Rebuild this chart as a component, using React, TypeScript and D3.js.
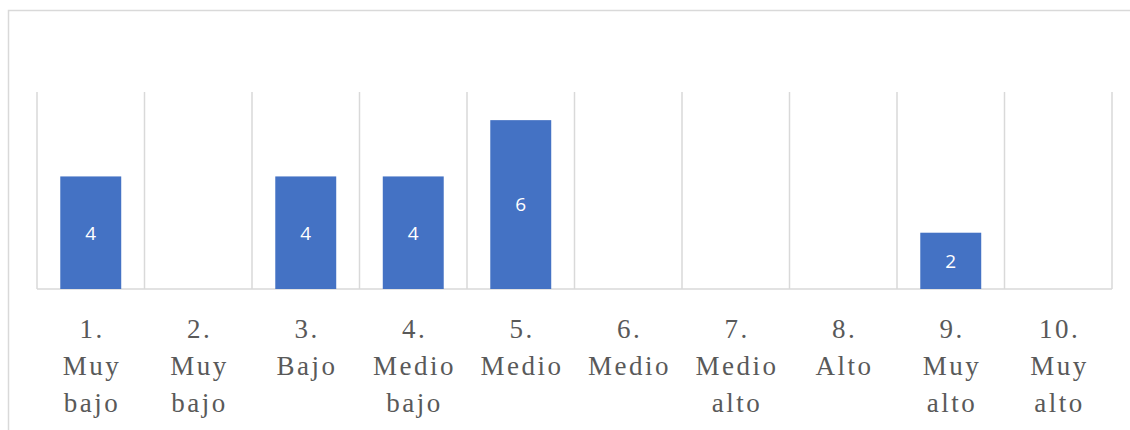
import React from "react";
import * as d3 from "d3";

const categories = ["1. Muy bajo", "2. Muy bajo", "3. Bajo", "4. Medio bajo", "5. Medio", "6. Medio", "7. Medio alto", "8. Alto", "9. Muy alto", "10. Muy alto"];
const categoryLines = [
  ["1.", "Muy", "bajo"],
  ["2.", "Muy", "bajo"],
  ["3.", "Bajo"],
  ["4.", "Medio", "bajo"],
  ["5.", "Medio"],
  ["6.", "Medio"],
  ["7.", "Medio", "alto"],
  ["8.", "Alto"],
  ["9.", "Muy", "alto"],
  ["10.", "Muy", "alto"],
];
const values = [4, 0, 4, 4, 6, 0, 0, 0, 2, 0];
const yMax = 7;

export default function App() {
  const W = 1130, H = 430;
  const left = 37, right = 1112, top = 92, bottom = 289;
  const x = d3.scaleBand<string>().domain(categories).range([left, right]).padding(0);
  const y = d3.scaleLinear().domain([0, yMax]).range([bottom, top]);
  const bw = x.bandwidth();
  const barW = bw * 0.567;
  const grid = categories.map((c) => x(c) as number).concat([right]);
  const grey = "#d9d9d9";
  return (
    <svg width={W} height={H} style={{ position: "absolute", left: 0, top: 0, background: "#fff" }}>
      <rect x={8.5} y={10.5} width={W + 20} height={H + 20} fill="none" stroke={grey} strokeWidth={1.5} />
      {grid.map((gx, i) => (
        <line key={"g" + i} x1={gx} x2={gx} y1={top} y2={bottom} stroke={grey} strokeWidth={1.5} />
      ))}
      <line x1={left} x2={right} y1={bottom} y2={bottom} stroke={grey} strokeWidth={1.5} />
      {categories.map((c, i) => {
        const v = values[i];
        if (!v) return null;
        const cx = (x(c) as number) + bw / 2;
        return (
          <g key={"b" + i}>
            <rect x={cx - barW / 2} y={y(v)} width={barW} height={y(0) - y(v)} fill="#4472c4" />
            <text x={cx} y={(y(v) + y(0)) / 2} dy="0.36em" textAnchor="middle" fill="#fff"
              fontFamily="Open Sans, Noto Sans, sans-serif" fontSize={19}>
              {v}
            </text>
          </g>
        );
      })}
      {categories.map((c, i) => {
        const cx = (x(c) as number) + bw / 2;
        return (
          <text key={"l" + i} textAnchor="middle" fill="#595959"
            fontFamily="Liberation Serif, DejaVu Serif, serif" fontSize={27} letterSpacing={2.5}>
            {categoryLines[i].map((t, j) => (
              <tspan key={j} x={cx + 1.25} y={338 + j * 37}>{t}</tspan>
            ))}
          </text>
        );
      })}
    </svg>
  );
}
